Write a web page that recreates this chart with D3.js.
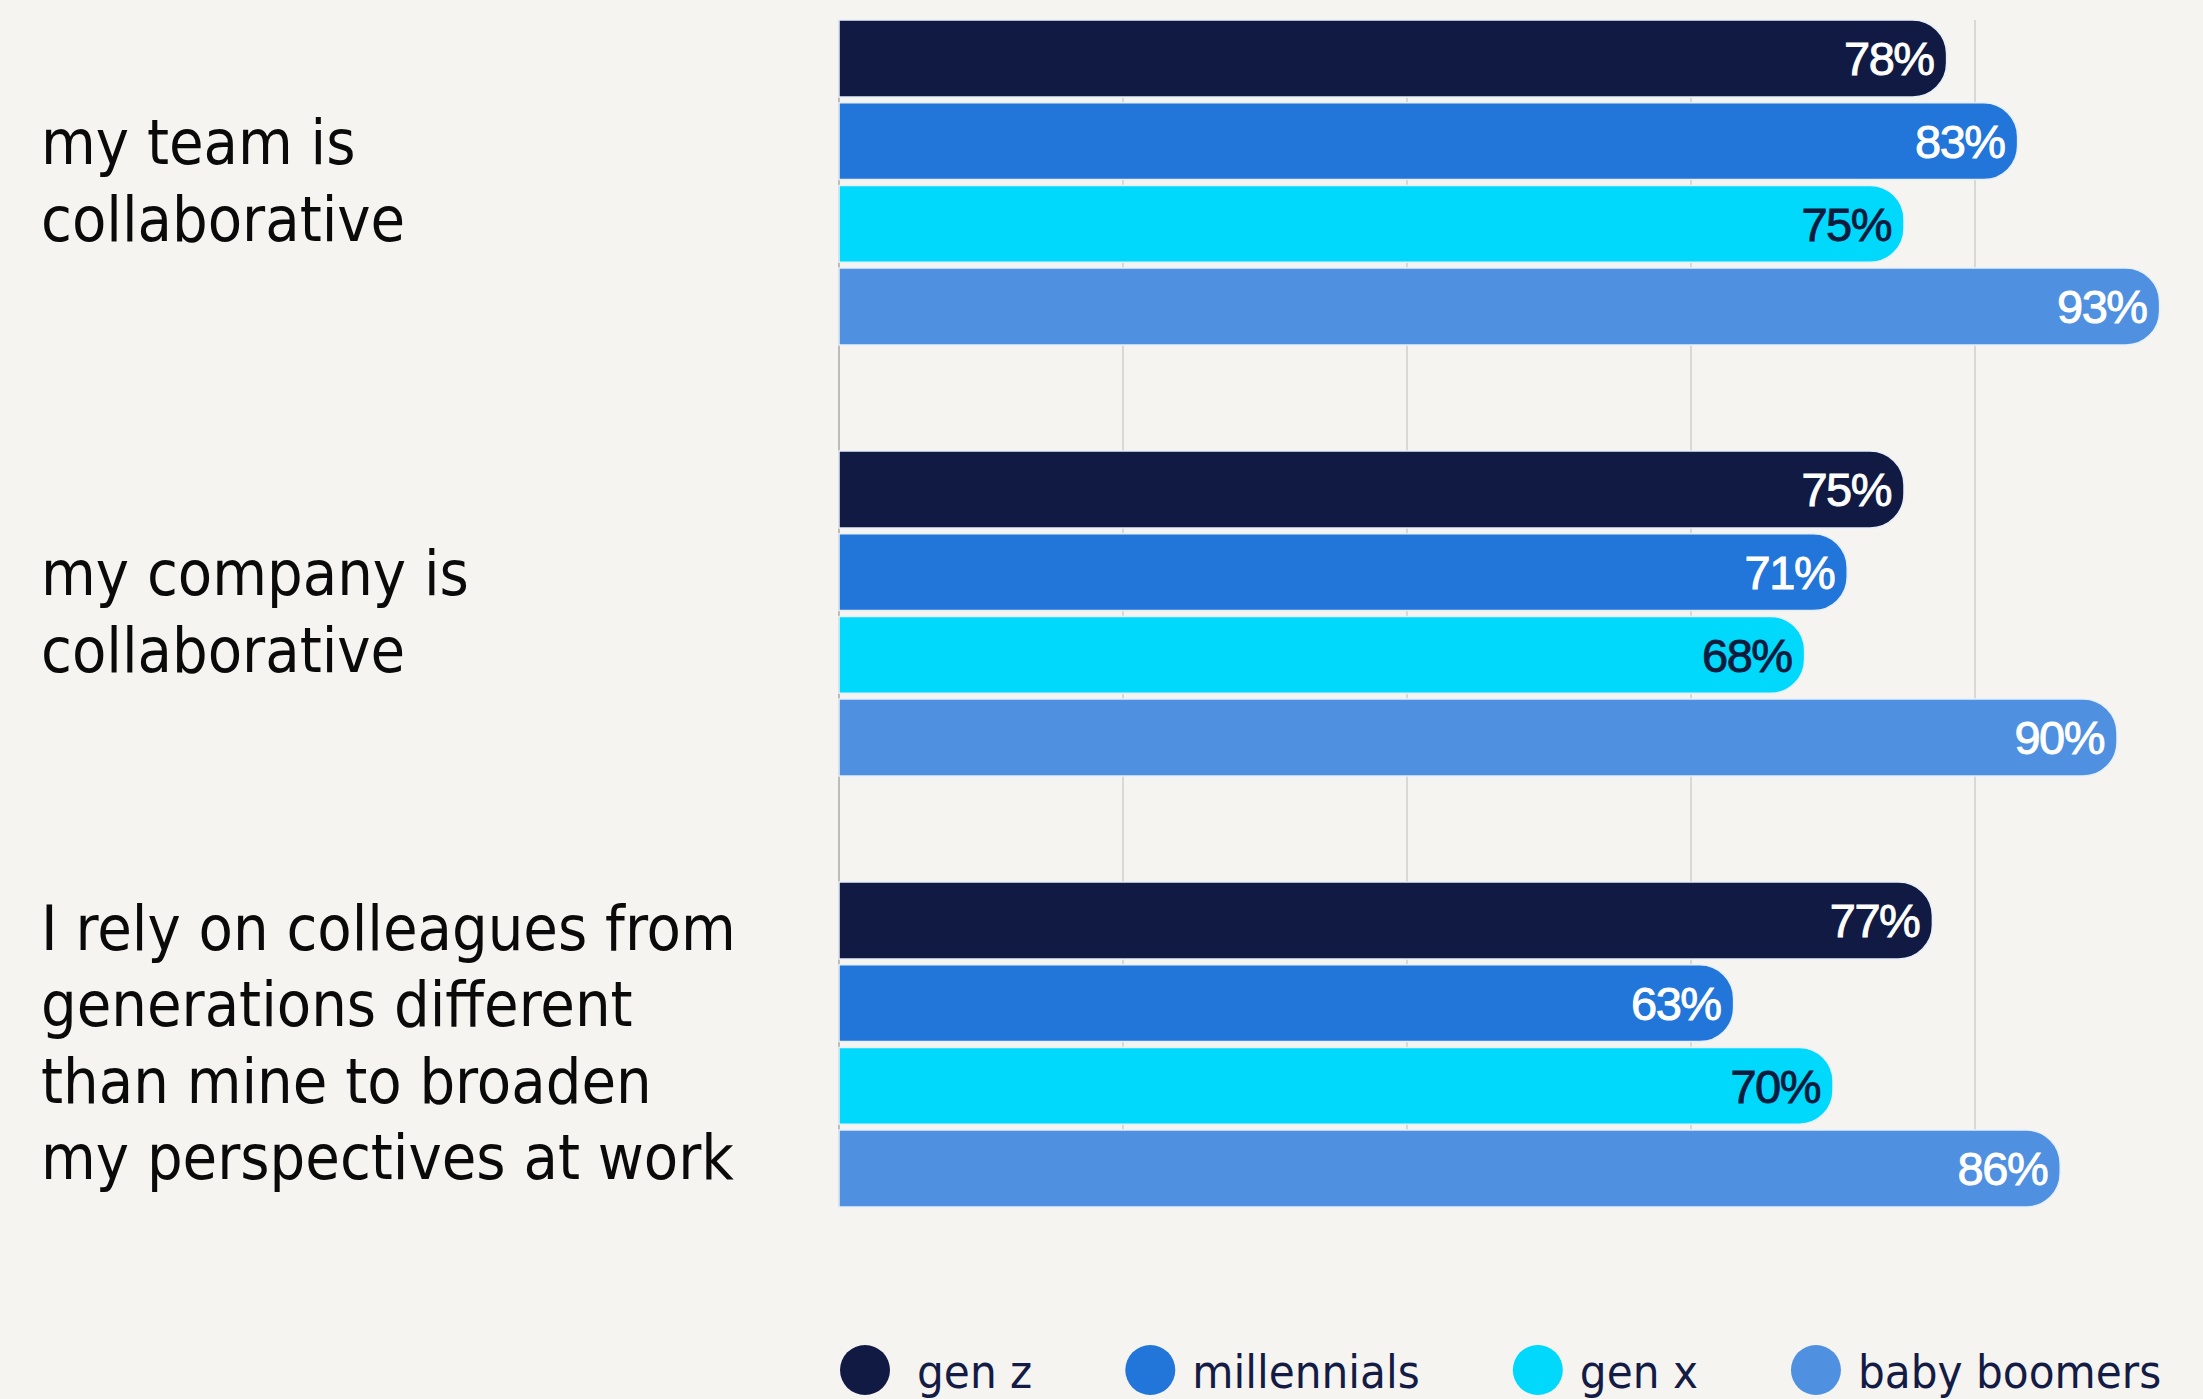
<!DOCTYPE html>
<html>
<head>
<meta charset="utf-8">
<script src="https://cdn.jsdelivr.net/npm/d3@7"></script>
<style>
  html, body { margin: 0; padding: 0; background: #f5f4f0; }
  svg { display: block; }
</style>
</head>
<body>
<svg id="chart" width="2203" height="1399"></svg>
<script>
// Survey statements (each split into display lines)
const categories = [
  ["my team is", "collaborative"],
  ["my company is", "collaborative"],
  ["I rely on colleagues from", "generations different", "than mine to broaden", "my perspectives at work"]
];

// Generations shown in every group, top to bottom
const series = ["gen z", "millennials", "gen x", "baby boomers"];

// Share agreeing (%), one value per statement
const genZ        = [78, 75, 77];
const millennials = [83, 71, 63];
const genX        = [75, 68, 70];
const babyBoomers = [93, 90, 86];

(function () {
  const seriesValues = [genZ, millennials, genX, babyBoomers];
  const seriesColors = ["#111a43", "#2275d9", "#00d8fc", "#4f90e0"];
  const labelColors  = ["#ffffff", "#ffffff", "#0e1b3c", "#ffffff"];

  const svg = d3.select("#chart");
  const W = 2203, H = 1399;

  svg.append("rect").attr("width", W).attr("height", H).attr("fill", "#f5f4f0");

  // Scales
  const x = d3.scaleLinear().domain([0, 100]).range([839, 2259]);
  const y = d3.scaleBand()
    .domain(d3.range(categories.length))
    .range([20, 1207])
    .paddingInner(0.246)
    .paddingOuter(0);
  const yInner = d3.scaleBand()
    .domain(d3.range(series.length))
    .range([0, y.bandwidth()])
    .paddingInner(0.07);

  const plotTop = y(0), plotBottom = y(categories.length - 1) + y.bandwidth();

  // Vertical gridlines
  svg.append("g").selectAll("line")
    .data(x.ticks(5).filter(t => t > 0 && t < 100))
    .join("line")
    .attr("x1", d => x(d)).attr("x2", d => x(d))
    .attr("y1", plotTop).attr("y2", plotBottom)
    .attr("stroke", "#d9d8d4").attr("stroke-width", 2);

  // Baseline at 0%
  svg.append("line")
    .attr("x1", x(0)).attr("x2", x(0))
    .attr("y1", plotTop).attr("y2", plotBottom)
    .attr("stroke", "#bdbcb8").attr("stroke-width", 2);

  // Bar with a square left end and rounded right end
  function barPath(x0, x1, y0, h) {
    const r = Math.min(h * 0.44, (x1 - x0) / 2);
    return `M${x0},${y0}H${x1 - r}A${r},${r} 0 0 1 ${x1},${y0 + r}` +
           `V${y0 + h - r}A${r},${r} 0 0 1 ${x1 - r},${y0 + h}H${x0}Z`;
  }

  const rows = [];
  categories.forEach((c, ci) => {
    series.forEach((s, si) => {
      rows.push({ ci, si, value: seriesValues[si][ci] });
    });
  });

  svg.append("g").selectAll("path")
    .data(rows)
    .join("path")
    .attr("d", d => barPath(x(0), x(d.value), y(d.ci) + yInner(d.si), yInner.bandwidth()))
    .attr("fill", d => seriesColors[d.si])
    .attr("stroke", "#e6f0fb")
    .attr("stroke-width", 1.5);

  // Value labels inside bar ends
  svg.append("g").selectAll("text")
    .data(rows)
    .join("text")
    .attr("x", d => x(d.value) - 13)
    .attr("y", d => y(d.ci) + yInner(d.si) + yInner.bandwidth() / 2)
    .attr("dy", "0.36em")
    .attr("text-anchor", "end")
    .attr("font-family", "'Liberation Sans', Arial, sans-serif")
    .attr("font-size", 47)
    .attr("letter-spacing", "-1.5px")
    .attr("fill", d => labelColors[d.si])
    .attr("stroke", d => labelColors[d.si])
    .attr("stroke-width", 0.9)
    .text(d => d.value + "%");

  // Statement labels on the left
  const lineH = 76.5;
  const labelFont = "'DejaVu Sans Condensed', 'DejaVu Sans', sans-serif";
  const catG = svg.append("g");
  categories.forEach((lines, ci) => {
    const center = y(ci) + y.bandwidth() / 2;
    const firstBase = center + 20 - (lines.length - 1) * lineH / 2;
    const t = catG.append("text")
      .attr("font-family", labelFont)
      .attr("font-stretch", "condensed")
      .attr("font-size", 62.5)
      .attr("fill", "#0a0a0a");
    lines.forEach((ln, li) => {
      t.append("tspan").attr("x", 41).attr("y", firstBase + li * lineH).text(ln);
    });
  });

  // Legend along the bottom
  const legend = svg.append("g");
  let cx = 865;
  const legendY = 1370;
  series.forEach((s, si) => {
    legend.append("circle")
      .attr("cx", cx).attr("cy", legendY).attr("r", 25)
      .attr("fill", seriesColors[si]);
    const dx = si === 0 ? 52 : 42;
    const txt = legend.append("text")
      .attr("x", cx + dx)
      .attr("y", legendY + 18)
      .attr("font-family", labelFont)
      .attr("font-stretch", "condensed")
      .attr("font-size", 47)
      .attr("fill", "#141c45")
      .text(s);
    const w = txt.node().getComputedTextLength();
    cx = cx + dx + w + 118;
  });
})();
</script>
</body>
</html>
